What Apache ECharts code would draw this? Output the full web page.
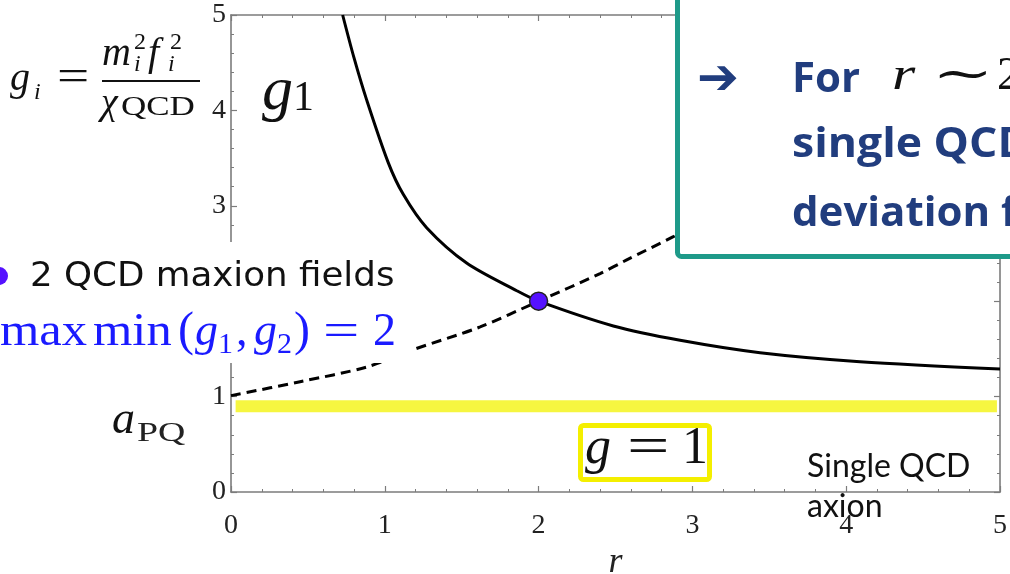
<!DOCTYPE html>
<html>
<head>
<meta charset="utf-8">
<script src="https://cdn.jsdelivr.net/npm/echarts@6/dist/echarts.min.js"></script>
<style>
  html, body { margin: 0; padding: 0; background: #ffffff; }
  #chart { width: 1010px; height: 574px; }
</style>
</head>
<body>
<div id="chart"></div>
<script>
// g1 curve (solid): coupling of the first maxion field versus r
const rG1 = [0.726, 0.80, 0.882, 1.023, 1.12, 1.272, 1.532, 1.858, 2.0, 2.486, 2.92, 3.44, 4.09, 5.0];
const g1  = [5.0,   4.55, 4.11,  3.45,  3.12, 2.77,  2.40,  2.11,  2.0, 1.74,  1.59, 1.46, 1.366, 1.29];

// g2 curve (dashed): coupling of the second maxion field versus r
const rG2 = [0.0,  0.449, 0.882, 1.18, 1.62, 2.0, 2.4,  2.57, 2.876, 2.95];
const g2  = [1.01, 1.156, 1.31,  1.49, 1.73, 2.0, 2.29, 2.43, 2.676, 2.74];

// crossing point where min(g1, g2) is largest
const peakR = [2.0];
const peakG = [2.0];

// single QCD axion reference level
const singleLevel = 0.9;
const singleRange = [0.03, 4.98];

const pairs = (xs, ys) => xs.map((x, i) => [x, ys[i]]);

const SERIF = '"Liberation Serif", "DejaVu Serif", serif';
const AXIS_GREY = '#7c7c7c';

// text placed by its alphabetic baseline; optional horizontal stretch
function txt(str, x, base, size, o) {
  o = o || {};
  return {
    type: 'text', x: x, y: base - 0.32 * size, z: o.z || 110,
    scaleX: o.sx || 1,
    style: {
      text: str,
      font: (o.italic ? 'italic ' : '') + (o.weight ? o.weight + ' ' : '') + size + 'px ' + (o.family || SERIF),
      fill: o.color || '#111',
      textAlign: o.align || 'left',
      textVerticalAlign: 'middle'
    }
  };
}

const BLUE = '#1a1aff';
const NAVY = '#213d7e';
const TEAL = '#1e9a89';
const SANS_BOX = '"Open Sans", "Noto Sans", sans-serif';

const graphics = [
  // g_i = m_i^2 f_i^2 / chi_QCD
  txt('g', 10, 92, 40, { italic: true }),
  txt('i', 34, 100, 24, { italic: true }),
  txt('=', 57, 93, 44, { sx: 1.3 }),
  txt('m', 102, 67, 40, { italic: true }),
  txt('2', 134, 50, 24),
  txt('i', 134, 72, 24, { italic: true }),
  txt('f', 148, 67, 40, { italic: true }),
  txt('2', 170, 50, 24),
  txt('i', 168, 72, 24, { italic: true }),
  { type: 'rect', z: 110, shape: { x: 102, y: 80, width: 98, height: 2 }, style: { fill: '#111' } },
  txt('χ', 101, 116, 38, { italic: true }),
  txt('QCD', 121, 117, 28, { sx: 1.25 }),

  // g_1 label
  txt('g', 262, 113, 62, { italic: true }),
  txt('1', 293, 112, 42),

  // a_PQ label
  txt('a', 112, 436, 46, { italic: true }),
  txt('PQ', 137, 443, 27, { sx: 1.4, color: '#222' }),

  // mask behind the maxion legend lines
  { type: 'rect', z: 105, shape: { x: -5, y: 242, width: 417, height: 121 }, style: { fill: '#ffffff' } },
  { type: 'circle', z: 110, shape: { cx: -1, cy: 276, r: 9 }, style: { fill: '#5512ff' } },
  txt('2 QCD maxion fields', 30, 288, 33, { family: '"DejaVu Sans", sans-serif', sx: 1.08 }),

  // max min (g1, g2) = 2
  txt('max', 0, 348, 46, { color: BLUE, sx: 1.1 }),
  txt('min', 93, 348, 46, { color: BLUE, sx: 1.1 }),
  txt('(', 178, 348, 48, { color: BLUE }),
  txt('g', 195, 348, 46, { italic: true, color: BLUE }),
  txt('1', 218, 355, 30, { color: BLUE }),
  txt(',', 236, 348, 46, { color: BLUE }),
  txt('g', 254, 348, 46, { italic: true, color: BLUE }),
  txt('2', 277, 355, 30, { color: BLUE }),
  txt(')', 294, 348, 48, { color: BLUE }),
  txt('=', 323, 348, 46, { color: BLUE, sx: 1.4 }),
  txt('2', 373, 348, 46, { color: BLUE }),

  // g = 1 boxed label
  { type: 'rect', z: 110, shape: { x: 580.5, y: 425.5, width: 129, height: 54, r: 3 }, style: { fill: '#ffffff', stroke: '#f4ef00', lineWidth: 5 } },
  txt('g', 585, 466, 52, { italic: true }),
  txt('=', 627, 466, 52, { sx: 1.45 }),
  txt('1', 682, 466, 52),

  // Single QCD axion
  txt('Single QCD', 807, 477, 32, { family: 'Lato, sans-serif' }),
  txt('axion', 807, 517, 32, { family: 'Lato, sans-serif' }),

  // call-out box, top right
  { type: 'rect', z: 120, shape: { x: 677.5, y: -20, width: 400, height: 276.5, r: 4 }, style: { fill: '#ffffff', stroke: TEAL, lineWidth: 5 } },
  txt('➔', 697, 97, 50, { family: '"DejaVu Sans", sans-serif', color: NAVY, z: 125 }),
  txt('For', 792, 93, 42, { family: SANS_BOX, weight: 'bold', color: NAVY, z: 125 }),
  txt('r', 892, 92, 46, { italic: true, sx: 1.3, z: 125 }),
  txt('∼', 932, 92, 46, { sx: 1.6, z: 125 }),
  txt('2,', 997, 92, 46, { z: 125 }),
  txt('single QCD axion', 792, 158, 42, { family: SANS_BOX, weight: 'bold', color: NAVY, sx: 1.06, z: 125 }),
  txt('deviation from', 792, 227, 42, { family: SANS_BOX, weight: 'bold', color: NAVY, z: 125 })
];

const axisCommon = {
  min: 0, max: 5, interval: 1,
  axisLine: { onZero: false, lineStyle: { color: AXIS_GREY, width: 1.6 } },
  axisTick: { inside: true, length: 6, lineStyle: { color: AXIS_GREY, width: 1.2 } },
  minorTick: { show: true, splitNumber: 5, length: 3, lineStyle: { color: AXIS_GREY, width: 1 } },
  splitLine: { show: false },
  minorSplitLine: { show: false }
};
const labelStyle = { fontFamily: SERIF, fontSize: 28, color: '#222' };

const option = {
  backgroundColor: '#ffffff',
  animation: false,
  grid: { left: 231, right: 10, top: 15, bottom: 82, containLabel: false, outerBoundsMode: 'none' },
  xAxis: [
    Object.assign({}, axisCommon, {
      type: 'value', position: 'bottom',
      axisLabel: Object.assign({ margin: 20 }, labelStyle),
      name: 'r', nameLocation: 'middle', nameGap: 40,
      nameTextStyle: { fontFamily: SERIF, fontStyle: 'italic', fontSize: 36, color: '#222' }
    }),
    Object.assign({}, axisCommon, { type: 'value', position: 'top', axisLabel: { show: false } })
  ],
  yAxis: [
    Object.assign({}, axisCommon, {
      type: 'value', position: 'left',
      axisLabel: Object.assign({ margin: 5 }, labelStyle)
    }),
    Object.assign({}, axisCommon, { type: 'value', position: 'right', axisLabel: { show: false } })
  ],
  series: [
    {
      name: 'single', type: 'line', symbol: 'none', z: 2,
      data: [[singleRange[0], singleLevel], [singleRange[1], singleLevel]],
      lineStyle: { color: '#f6f640', width: 12, cap: 'butt' }
    },
    {
      name: 'g1', type: 'line', symbol: 'none', smooth: 0.3, z: 3,
      data: pairs(rG1, g1),
      lineStyle: { color: '#000000', width: 3 }
    },
    {
      name: 'g2', type: 'line', symbol: 'none', smooth: 0.3, z: 3,
      data: pairs(rG2, g2),
      lineStyle: { color: '#000000', width: 3, type: [10, 6] }
    },
    {
      name: 'peak', type: 'scatter', z: 4,
      data: pairs(peakR, peakG),
      symbolSize: 18,
      itemStyle: { color: '#5512ff', opacity: 1, borderColor: '#222', borderWidth: 1.5 }
    }
  ],
  graphic: graphics
};

const chart = echarts.init(document.getElementById('chart'));
chart.setOption(option);
</script>
</body>
</html>
